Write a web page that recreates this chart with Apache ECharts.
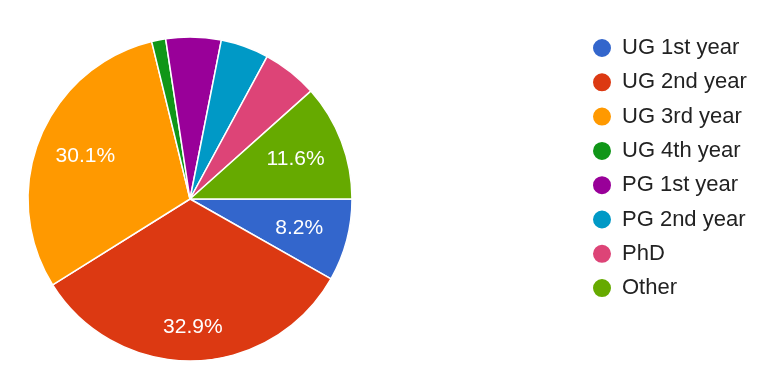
<!DOCTYPE html>
<html>
<head>
<meta charset="utf-8">
<script src="https://cdn.jsdelivr.net/npm/echarts@6/dist/echarts.min.js"></script>
<style>
html,body{margin:0;padding:0;background:#fff;}
#c{width:776px;height:386px;}
</style>
</head>
<body>
<div id="c"></div>
<script>
const categories = ['UG 1st year','UG 2nd year','UG 3rd year','UG 4th year','PG 1st year','PG 2nd year','PhD','Other'];
const percents = [8.2, 32.9, 30.1, 1.4, 5.5, 4.8, 5.5, 11.6];
const colors = ['#3366cc','#dc3912','#ff9900','#109618','#990099','#0099c6','#dd4477','#66aa00'];
const labelThreshold = 8;
const outerLabelSlices = ['UG 2nd year'];

const chart = echarts.init(document.getElementById('c'));
const FONT = 'Arial, "Liberation Sans", sans-serif';
const pieData = categories.map((n, i) => ({ name: n, value: percents[i], itemStyle: { color: colors[i] } }));
function labelData(outer) {
  return categories.map((n, i) => ({
    name: n, value: percents[i],
    label: { show: percents[i] >= labelThreshold && (outerLabelSlices.includes(n) === outer) }
  }));
}
function labelSeries(r0, outer) {
  return {
    type: 'pie',
    center: [190, 199],
    radius: [r0, 162],
    startAngle: 0,
    clockwise: true,
    silent: true,
    legendHoverLink: false,
    itemStyle: { color: 'rgba(0,0,0,0)', borderWidth: 0 },
    label: {
      position: 'inside',
      formatter: p => p.value.toFixed(1) + '%',
      color: '#fff',
      fontSize: 21,
      fontFamily: FONT
    },
    labelLine: { show: false },
    emphasis: { disabled: true },
    data: labelData(outer)
  };
}

chart.setOption({
  animation: false,
  legend: {
    orient: 'vertical',
    left: 586,
    top: 32,
    itemWidth: 20,
    itemHeight: 20,
    itemGap: 12.3,
    icon: 'circle',
    selectedMode: false,
    data: categories.map((n, i) => ({ name: n, itemStyle: { color: colors[i] } })),
    textStyle: { fontFamily: FONT, fontSize: 22, color: '#222', padding: [0, 0, 0, 5] }
  },
  series: [
    {
      type: 'pie',
      center: [190, 199],
      radius: [0, 162],
      startAngle: 0,
      clockwise: true,
      label: { show: false },
      labelLine: { show: false },
      itemStyle: { borderColor: '#fff', borderWidth: 1.5 },
      emphasis: { disabled: true },
      data: pieData
    },
    labelSeries(58, false),
    labelSeries(88, true)
  ]
});
</script>
</body>
</html>
